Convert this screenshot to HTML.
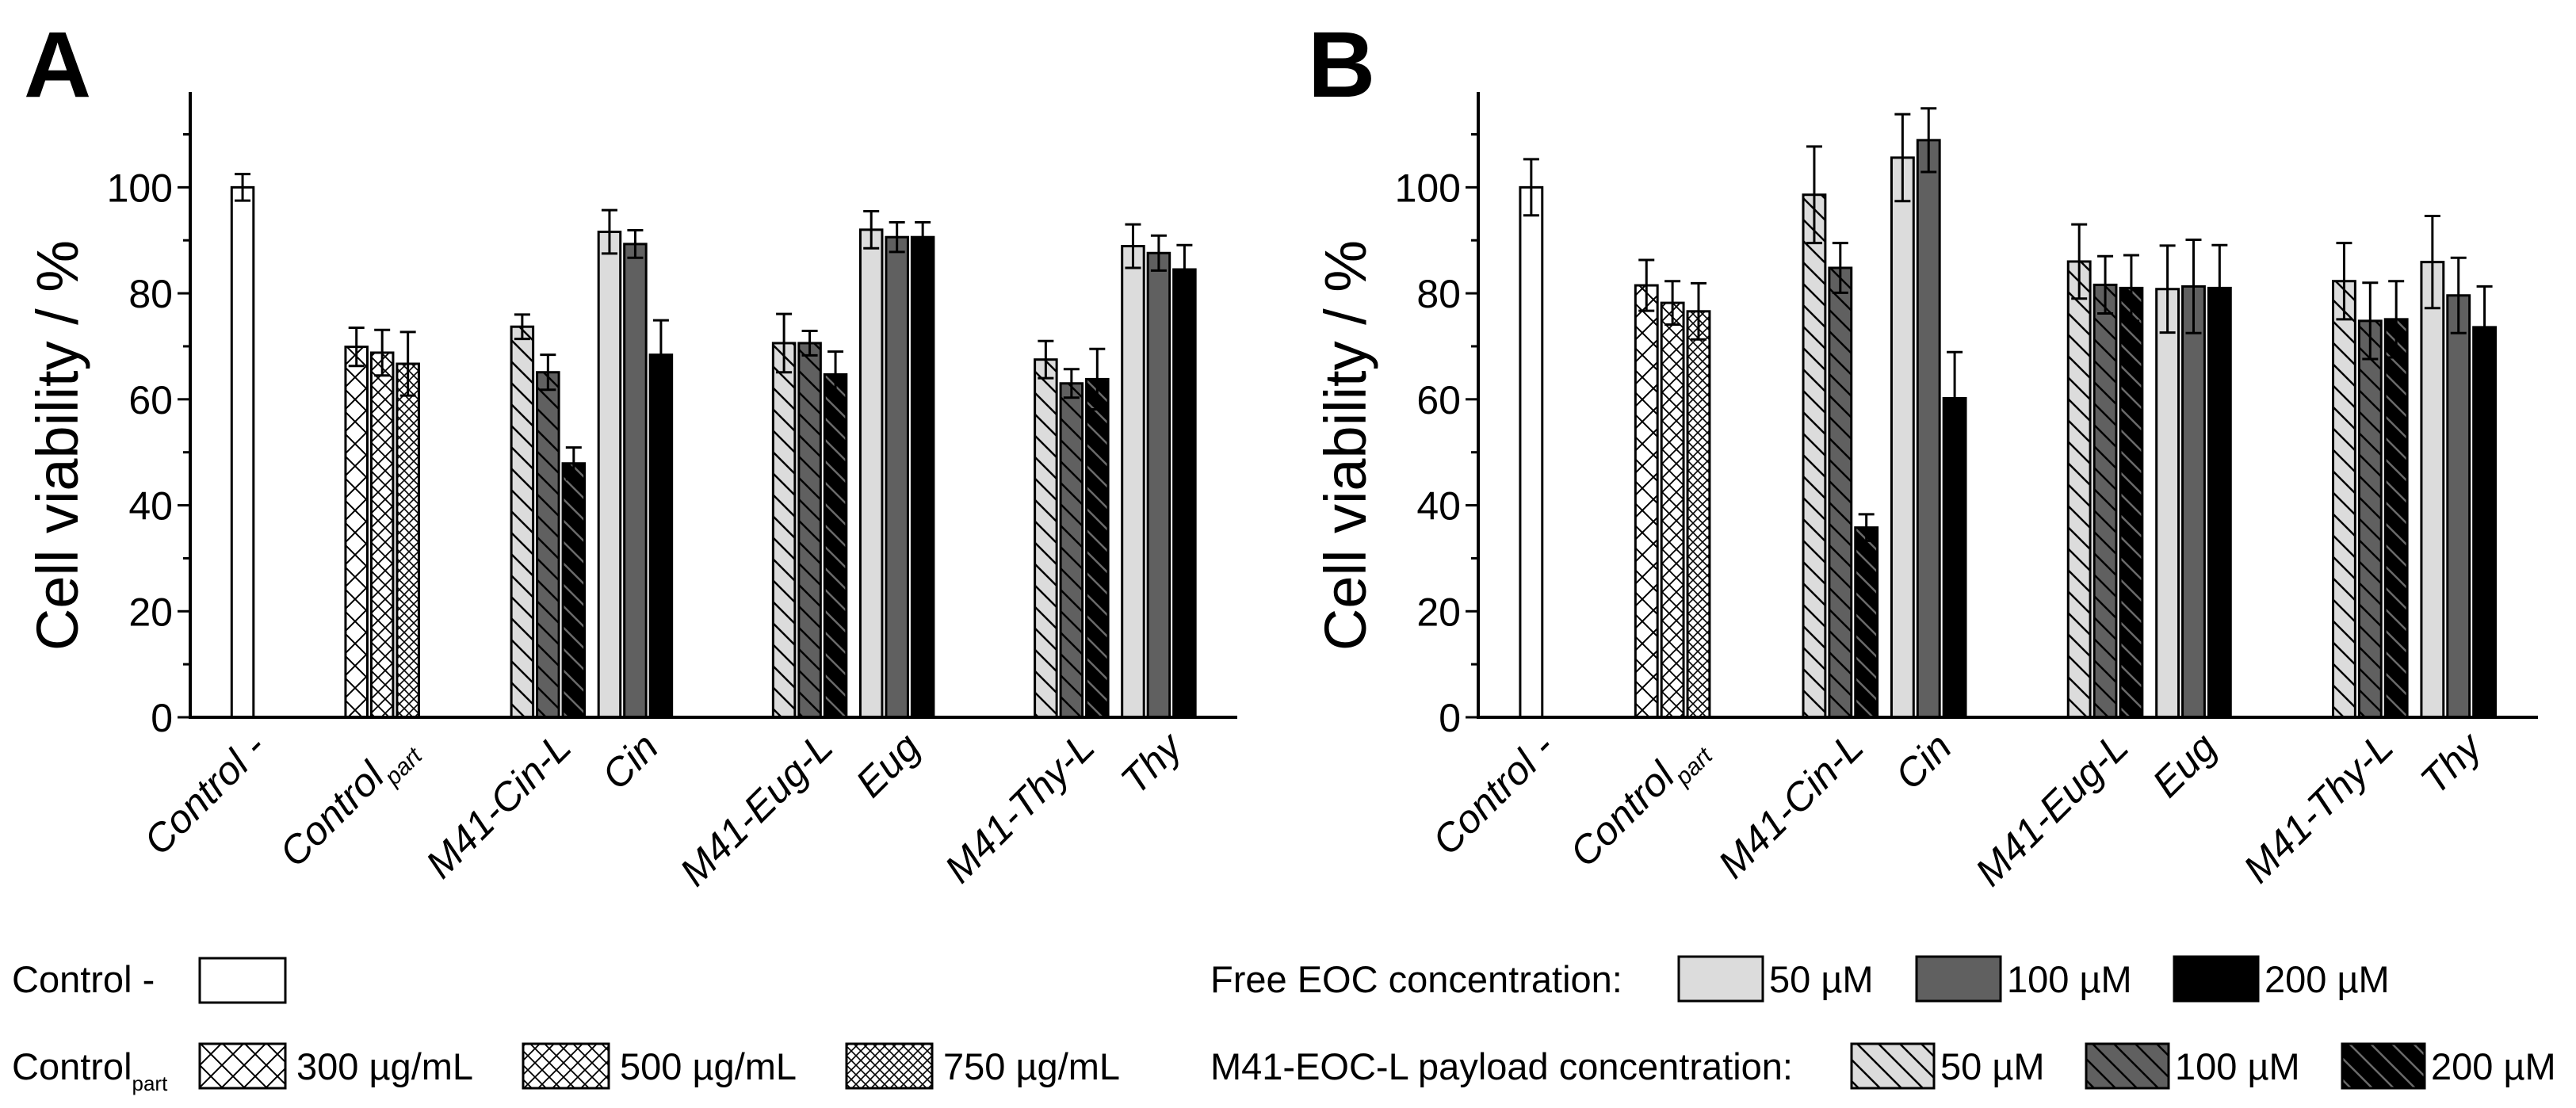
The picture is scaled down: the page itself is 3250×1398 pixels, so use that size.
<!DOCTYPE html>
<html><head><meta charset="utf-8"><style>
html,body{margin:0;padding:0;background:#fff;}
svg{display:block;font-family:"Liberation Sans",Arial,sans-serif;}
</style></head><body>
<svg id="fig" xmlns="http://www.w3.org/2000/svg" width="3250" height="1398" viewBox="0 0 3250 1398">
<defs>
<pattern id="hatch50" patternUnits="userSpaceOnUse" width="27" height="27"><rect width="27" height="27" fill="#dcdcdc"/><path d="M-3,-3 L30,30 M-3,24 L3,30 M24,-3 L30,3" stroke="#000" stroke-width="2.5"/></pattern>
<pattern id="hatch100" patternUnits="userSpaceOnUse" width="27" height="27"><rect width="27" height="27" fill="#606060"/><path d="M-3,-3 L30,30 M-3,24 L3,30 M24,-3 L30,3" stroke="#000" stroke-width="2.5"/></pattern>
<pattern id="hatch200" patternUnits="userSpaceOnUse" width="27" height="27"><rect width="27" height="27" fill="#000"/><path d="M-3,-3 L30,30 M-3,24 L3,30 M24,-3 L30,3" stroke="#6a6a6a" stroke-width="2.5"/></pattern>
<pattern id="cross300" patternUnits="userSpaceOnUse" width="28" height="28"><rect width="28" height="28" fill="#fff"/><path d="M0,0 L28,28 M28,0 L0,28" stroke="#000" stroke-width="2"/></pattern>
<pattern id="cross500" patternUnits="userSpaceOnUse" width="18" height="18"><rect width="18" height="18" fill="#fff"/><path d="M0,0 L18,18 M18,0 L0,18" stroke="#000" stroke-width="1.8"/></pattern>
<pattern id="cross750" patternUnits="userSpaceOnUse" width="12" height="12"><rect width="12" height="12" fill="#fff"/><path d="M0,0 L12,12 M12,0 L0,12" stroke="#000" stroke-width="1.6"/></pattern>
</defs>
<text x="30" y="122" font-size="118" font-weight="bold">A</text>
<text x="1650" y="122" font-size="118" font-weight="bold">B</text>
<g id="legend"></g>
</svg>
<script>
// categories and tick labels
const categories = ["Control -", "Control", "M41-Cin-L", "Cin", "M41-Eug-L", "Eug", "M41-Thy-L", "Thy"];
const catPos = [0.6, 2.2, 4.1, 5.1, 7.1, 8.1, 10.1, 11.1];
const yTicks = [0, 20, 40, 60, 80, 100];
const yMinor = [10, 30, 50, 70, 90, 110];

// Panel A data
const ctrlA = [100];           const ctrlErrA = [2.5];
const partA = [69.9, 68.8, 66.7]; const partErrA = [3.6, 4.3, 6.0];
const m41_50A = [73.7, 70.6, 67.5];  const m41_50ErrA = [2.3, 5.5, 3.5];
const m41_100A = [65.1, 70.6, 63.0]; const m41_100ErrA = [3.3, 2.3, 2.7];
const m41_200A = [47.9, 64.7, 63.8]; const m41_200ErrA = [3.0, 4.3, 5.7];
const free_50A = [91.6, 92.0, 88.9]; const free_50ErrA = [4.1, 3.5, 4.1];
const free_100A = [89.3, 90.6, 87.6]; const free_100ErrA = [2.6, 2.8, 3.3];
const free_200A = [68.4, 90.6, 84.5]; const free_200ErrA = [6.5, 2.8, 4.6];

// Panel B data
const ctrlB = [100];           const ctrlErrB = [5.3];
const partB = [81.5, 78.2, 76.6]; const partErrB = [4.8, 4.1, 5.3];
const m41_50B = [98.6, 86.0, 82.3];  const m41_50ErrB = [9.1, 7.0, 7.2];
const m41_100B = [84.8, 81.6, 74.8]; const m41_100ErrB = [4.7, 5.4, 7.2];
const m41_200B = [35.8, 81.0, 75.1]; const m41_200ErrB = [2.5, 6.2, 7.2];
const free_50B = [105.6, 80.8, 85.9]; const free_50ErrB = [8.2, 8.2, 8.7];
const free_100B = [108.9, 81.3, 79.6]; const free_100ErrB = [6.0, 8.8, 7.1];
const free_200B = [60.2, 81.0, 73.6]; const free_200ErrB = [8.7, 8.1, 7.7];

const NS = "http://www.w3.org/2000/svg";
const svg = document.getElementById("fig");
function mk(tag, attrs, parent) {
  const e = document.createElementNS(NS, tag);
  for (const k in attrs) e.setAttribute(k, attrs[k]);
  (parent || svg).appendChild(e);
  return e;
}

function drawPanel(id, x0, x1, d) {
  const y0 = 905, yTop = 116, yMax = 118;
  const g = mk("g", {});
  
  
  const xs = u => x0 + (u / 12) * (x1 - x0);
  const ys = v => y0 - v / yMax * (y0 - yTop);
  const unitPx = (x1 - x0) / 12;
  const bw = 0.25 * unitPx, step = 0.295 * unitPx;
  const errs = [];
  function bar(cx, v, e, fill, name) {
    const r = mk("rect", {x: cx - bw / 2, y: ys(v), width: bw, height: y0 - ys(v), fill: fill, stroke: "#000", "stroke-width": 3}, g);
    
    
    errs.push([cx, v, e]);
  }
  bar(xs(catPos[0]), d.ctrl[0], d.ctrlErr[0], "#fff", "bar-control-neg");
  const crosses = ["url(#cross300)", "url(#cross500)", "url(#cross750)"];
  d.part.forEach((v, i) => bar(xs(catPos[1]) + (i - 1) * step, v, d.partErr[i], crosses[i], "bar-control-part-" + i));
  const m41 = [[d.m50, d.m50e, "url(#hatch50)"], [d.m100, d.m100e, "url(#hatch100)"], [d.m200, d.m200e, "url(#hatch200)"]];
  const fr = [[d.f50, d.f50e, "#dcdcdc"], [d.f100, d.f100e, "#606060"], [d.f200, d.f200e, "#000"]];
  for (let gi = 0; gi < 3; gi++) {
    m41.forEach((s, i) => bar(xs(catPos[2 + gi * 2]) + (i - 1) * step, s[0][gi], s[1][gi], s[2], "bar-" + categories[2 + gi * 2].toLowerCase() + "-" + i));
    fr.forEach((s, i) => bar(xs(catPos[3 + gi * 2]) + (i - 1) * step, s[0][gi], s[1][gi], s[2], "bar-" + categories[3 + gi * 2].toLowerCase() + "-" + i));
  }
  errs.forEach(([cx, v, e]) => {
    const p = mk("path", {d: `M${cx},${ys(v - e)} V${ys(v + e)} M${cx - 10},${ys(v + e)} h20 M${cx - 10},${ys(v - e)} h20`, stroke: "#000", "stroke-width": 3, fill: "none"}, g);
    
    
  });
  const ax = mk("path", {d: `M${x0},${yTop} V${y0} H${x1}`, stroke: "#000", "stroke-width": 4, fill: "none"}, g);
  
  
  yTicks.forEach(t => {
    mk("line", {x1: x0 - 16, x2: x0, y1: ys(t), y2: ys(t), stroke: "#000", "stroke-width": 3}, g);
    const tl = mk("text", {x: x0 - 22, y: ys(t) + 18, "text-anchor": "end", "font-size": 50}, g);
    tl.textContent = t;
    
    
  });
  yMinor.forEach(t => mk("line", {x1: x0 - 9, x2: x0, y1: ys(t), y2: ys(t), stroke: "#000", "stroke-width": 3}, g));
  const yt = mk("text", {x: 0, y: 0, "text-anchor": "middle", "font-size": 74, transform: `translate(${x0 - 142},562) rotate(-90)`}, g);
  yt.textContent = "Cell viability / %";
  
  
  categories.forEach((c, i) => {
    const ex = xs(catPos[i]) + (i === 1 ? 42 : 32), ey = 946;
    const t = mk("text", {x: 0, y: 0, "text-anchor": "end", "font-size": 50, "font-style": "italic", transform: `translate(${ex},${ey}) rotate(-45)`}, g);
    if (i === 1) {
      t.textContent = "Control";
      const s = mk("tspan", {"font-size": 30, dy: 14}, t);
      s.textContent = "part";
    } else t.textContent = c;
    
    
  });
}

drawPanel("panel-a", 240, 1561, {ctrl: ctrlA, ctrlErr: ctrlErrA, part: partA, partErr: partErrA,
  m50: m41_50A, m50e: m41_50ErrA, m100: m41_100A, m100e: m41_100ErrA, m200: m41_200A, m200e: m41_200ErrA,
  f50: free_50A, f50e: free_50ErrA, f100: free_100A, f100e: free_100ErrA, f200: free_200A, f200e: free_200ErrA});
drawPanel("panel-b", 1865, 3202, {ctrl: ctrlB, ctrlErr: ctrlErrB, part: partB, partErr: partErrB,
  m50: m41_50B, m50e: m41_50ErrB, m100: m41_100B, m100e: m41_100ErrB, m200: m41_200B, m200e: m41_200ErrB,
  f50: free_50B, f50e: free_50ErrB, f100: free_100B, f100e: free_100ErrB, f200: free_200B, f200e: free_200ErrB});

// legend
const lg = document.getElementById("legend");
function ltext(x, y, str, name) {
  const t = mk("text", {x: x, y: y, "font-size": 47}, lg);
  t.textContent = str;
  
  
  return t;
}
function lbox(x, y, w, fill, name) {
  const r = mk("rect", {x: x, y: y, width: w, height: 56, fill: fill, stroke: "#000", "stroke-width": 3}, lg);
  
  
}
ltext(15, 1252, "Control -", "legend-control-neg-label");
lbox(252, 1209, 108, "#fff", "legend-control-neg-swatch");
const cp = ltext(15, 1362, "Control", "legend-control-part-label");
const cps = mk("tspan", {"font-size": 26, dy: 14}, cp); cps.textContent = "part";
const partLabels = ["300 \u00b5g/mL", "500 \u00b5g/mL", "750 \u00b5g/mL"];
const partBoxX = [252, 660, 1068];
const partFills = ["url(#cross300)", "url(#cross500)", "url(#cross750)"];
partLabels.forEach((l, i) => { lbox(partBoxX[i], 1317, 108, partFills[i], "legend-part-swatch-" + i); ltext(partBoxX[i] + 122, 1362, l, "legend-part-label-" + i); });
ltext(1527, 1252, "Free EOC concentration:", "legend-free-title");
const conc = ["50 \u00b5M", "100 \u00b5M", "200 \u00b5M"];
const freeX = [2118, 2418, 2743];
const freeFills = ["#dcdcdc", "#606060", "#000"];
conc.forEach((l, i) => { lbox(freeX[i], 1207, 106, freeFills[i], "legend-free-swatch-" + i); ltext(freeX[i] + 114, 1252, l, "legend-free-label-" + i); });
ltext(1527, 1362, "M41-EOC-L payload concentration:", "legend-m41-title");
const m41X = [2336, 2632, 2955];
const m41Fills = ["url(#hatch50)", "url(#hatch100)", "url(#hatch200)"];
conc.forEach((l, i) => { lbox(m41X[i], 1317, 104, m41Fills[i], "legend-m41-swatch-" + i); ltext(m41X[i] + 112, 1362, l, "legend-m41-label-" + i); });
</script>
</body></html>
